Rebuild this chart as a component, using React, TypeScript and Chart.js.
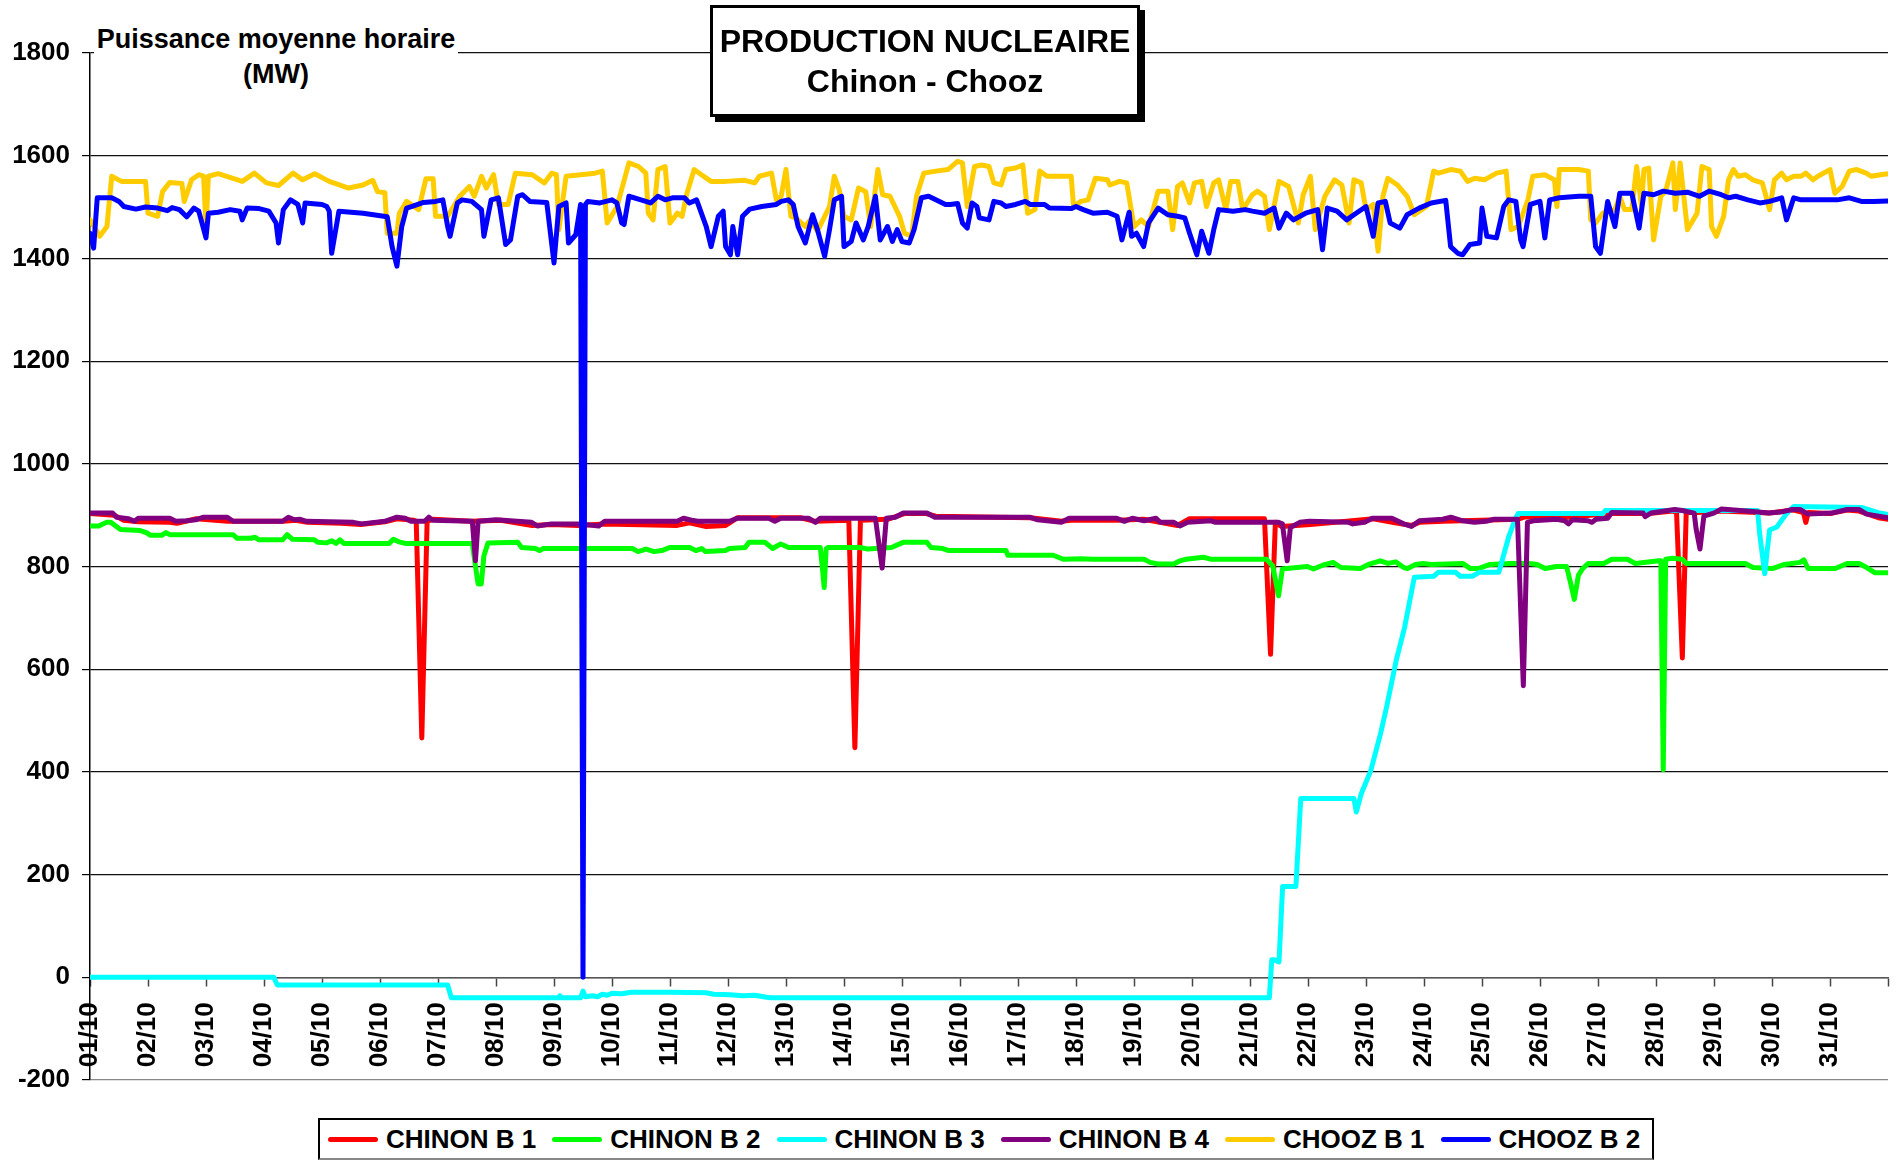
import React, { useEffect, useRef } from "react";
import { Chart, registerables } from "chart.js";

Chart.register(...registerables);

const FONT = '"Liberation Sans", Arial, Helvetica, sans-serif';

// Category labels (one per day, tick every 24 hours)
const dayLabels: string[] = [
  "01/10", "02/10", "03/10", "04/10", "05/10", "06/10", "07/10", "08/10", "09/10", "10/10",
  "11/10", "12/10", "13/10", "14/10", "15/10", "16/10", "17/10", "18/10", "19/10", "20/10",
  "21/10", "22/10", "23/10", "24/10", "25/10", "26/10", "27/10", "28/10", "29/10", "30/10", "31/10",
];
const hoursPerDay = 24;
const yMin = -200;
const yMax = 1800;
const yStep = 200;

const seriesNames: string[] = ["CHINON B 1", "CHINON B 2", "CHINON B 3", "CHINON B 4", "CHOOZ B 1", "CHOOZ B 2"];
const seriesColors: string[] = ["#FF0000", "#00FF00", "#00FFFF", "#800080", "#FFCC00", "#0000FF"];

// [hour since 01/10 00:00, MW]
const chinonB1: [number, number][] = [
  [0, 903], [10, 900], [14, 890], [20, 887], [33, 886], [36, 884], [44, 893], [57, 888], [80, 888], [85, 890],
  [90, 886], [104, 884], [112, 882], [122, 887], [127, 893], [134, 890], [135, 888], [137.3, 466], [139.5, 888],
  [142, 892], [158, 888], [170, 890], [183, 880], [191, 882], [202, 880], [213, 883], [243, 880], [248, 885],
  [255, 878], [263, 880], [268, 895], [294, 895], [300, 888], [314, 890], [316.5, 447], [318.8, 890], [330, 892],
  [337, 903], [346, 903], [350, 898], [389, 895], [402, 888], [406, 890], [425, 890], [436, 892], [450, 880],
  [455, 893], [486, 893], [488.5, 629], [490.5, 886], [493, 878], [505, 882], [520, 888], [531, 893], [540, 885],
  [547, 880], [550, 886], [560, 888], [591, 892], [594, 897], [607, 894], [629, 903], [645, 903], [655, 908],
  [656.5, 905], [658.9, 622], [660.5, 905], [665, 905], [675, 908], [695, 904], [705, 910], [709, 905], [710, 886],
  [711, 905], [720, 903], [727, 910], [732, 908], [740, 895], [744, 892],
];

const chinonB2: [number, number][] = [
  [0, 879], [3.6, 879], [6.9, 886], [8.6, 886], [12.6, 872], [20.8, 870], [23.3, 866], [24.9, 861], [29.8, 861],
  [31.4, 866], [33, 862], [59.2, 862], [60.9, 855], [66.6, 855], [68.2, 857], [69.9, 852], [79.7, 852], [81.6, 862],
  [83.8, 853], [92.8, 852], [94.4, 847], [97.7, 846], [100.1, 850], [101.8, 845], [103.4, 852], [105, 845],
  [123.8, 845], [125.5, 853], [127.9, 848], [130.4, 845], [158.2, 845], [159.5, 801], [160.6, 766], [161.9, 766],
  [163, 821], [164.7, 846], [177, 847], [178.6, 837], [184.3, 835], [186, 831], [187.6, 835], [224.4, 835],
  [226.8, 829], [230.1, 834], [233.4, 829], [236.6, 831], [239.9, 837], [248.1, 837], [250.7, 831], [253.1, 835],
  [254.7, 829], [262.9, 831], [264.6, 835], [271.1, 837], [272.7, 847], [279.3, 847], [282.5, 835], [285.8, 844],
  [289.1, 837], [302.2, 837], [303, 800], [303.8, 759], [304.6, 834], [305.4, 837], [318.5, 837], [321.8, 834],
  [325, 835], [331.6, 837], [336.5, 847], [346.3, 847], [348, 837], [352.9, 835], [355.3, 831], [379, 831],
  [379.8, 822], [398.6, 822], [402.7, 814], [410.1, 815], [415, 814], [436.2, 814], [438.7, 808], [442, 805],
  [448.5, 805], [451, 811], [453.4, 814], [460.8, 818], [464, 814], [486.9, 814], [489.4, 801], [491.8, 743],
  [493.4, 795], [495.1, 796], [503.8, 800], [506.3, 795], [510.3, 803], [514.4, 808], [517.6, 798], [525.7, 796],
  [529, 804], [533.9, 811], [537.1, 806], [540.3, 809], [543.6, 798], [545.2, 796], [548.5, 804], [551.7, 806],
  [555, 804], [568, 806], [571.2, 796], [574.5, 796], [579.3, 804], [587.4, 806], [595.6, 806], [598.8, 804],
  [602.1, 796], [606.9, 800], [611, 800], [612.6, 769], [614.2, 736], [615.9, 783], [617.5, 795], [619.9, 806],
  [626.4, 806], [629.7, 814], [636.2, 814], [639.4, 806], [649.2, 811], [650, 811], [651, 404], [652, 814],
  [654.8, 816], [658.9, 814], [660.5, 806], [684.9, 806], [688.1, 798], [696.2, 796], [701.1, 804], [707.6, 808],
  [709.2, 813], [710.9, 796], [722.2, 796], [727.1, 806], [732, 806], [735.2, 798], [738.5, 788], [744, 788],
];

const chinonB3: [number, number][] = [
  [0, 0], [76, 0], [77.5, -15], [148, -15], [149.5, -40], [194, -40], [194.5, -36], [195, -40], [203, -40],
  [204, -27], [205, -38], [208, -36], [210, -38], [212, -33], [214, -35], [216, -31], [220, -32], [224, -29],
  [240, -29], [255, -30], [258, -33], [265, -34], [270, -36], [275, -35], [280, -39], [282, -40], [488, -40],
  [489, 34], [490, 34], [492, 30], [493.5, 177], [499, 177], [501, 348], [523, 348], [524, 322], [526, 357],
  [530, 403], [534, 474], [536.5, 526], [540.5, 617], [544, 682], [548, 779], [556, 781], [558, 789], [565, 789],
  [567, 781], [572, 781], [575, 789], [583, 789], [587, 857], [590, 895], [591, 903], [626, 903], [627, 909],
  [665, 909], [690, 909], [691, 860], [693, 786], [694, 830], [695, 871], [698, 877], [702, 903], [705, 917],
  [733, 915], [740, 905], [744, 901],
];

const chinonB4: [number, number][] = [
  [0, 904], [9.4, 904], [11, 896], [16, 893], [18.4, 888], [20, 894], [33, 894], [35.5, 888], [40, 889],
  [43.7, 891], [47, 896], [56.8, 896], [59.2, 888], [79.7, 888], [82.1, 896], [84.6, 891], [87, 892], [89.5, 888],
  [109, 886], [112.4, 883], [122, 888], [127, 896], [130.4, 894], [132.8, 888], [138.5, 888], [140.2, 896],
  [141.8, 890], [158.2, 888], [159.5, 811], [160.6, 888], [168, 891], [182.7, 886], [185.1, 879], [190.9, 883],
  [202.3, 883], [210.5, 879], [213, 888], [243, 888], [245.6, 894], [248.9, 890], [251.5, 888], [264.6, 888],
  [267.8, 894], [280.9, 894], [283.4, 888], [285.8, 894], [297.3, 894], [300.2, 886], [302.2, 894], [325, 894],
  [327.8, 797], [329.5, 894], [333.2, 896], [336.5, 904], [346.3, 904], [349.6, 896], [388.8, 896], [392.1, 891],
  [401.9, 886], [405.2, 894], [424.8, 894], [428, 888], [431.3, 894], [436.2, 889], [441.1, 894], [442.8, 886],
  [448.5, 886], [451, 879], [454.2, 886], [464, 889], [465.7, 886], [491.8, 886], [493.4, 883], [495.4, 811],
  [496.7, 876], [500.6, 886], [504.6, 888], [520.9, 886], [522.5, 883], [527.4, 886], [530.6, 894], [538.7, 894],
  [543.6, 883], [546.8, 878], [550.1, 889], [559.8, 892], [563.1, 896], [568, 889], [572.8, 886], [577.7, 888],
  [581, 892], [590.7, 892], [593.1, 568], [594.8, 886], [597.2, 889], [606.9, 892], [610.2, 889], [611.8, 883],
  [613.4, 891], [619.9, 889], [621.5, 886], [623.2, 892], [628, 894], [629.7, 905], [642.7, 904], [643.5, 897],
  [645.9, 904], [655.7, 911], [658.9, 909], [663.8, 904], [664.6, 873], [666.2, 834], [667.8, 898], [671.9, 904],
  [675.1, 912], [688.1, 907], [694.6, 904], [699.5, 906], [704.4, 911], [707.6, 911], [710.9, 902], [720.6, 904],
  [727.1, 911], [732, 911], [735.2, 902], [744, 895],
];

const choozB1: [number, number][] = [
  [0, 1475], [4, 1443], [7, 1462], [9, 1560], [13, 1550], [23, 1550], [24, 1488], [28, 1482], [30, 1530],
  [33, 1548], [38, 1546], [39, 1511], [42, 1553], [45, 1563], [47, 1560], [48, 1462], [49, 1560], [53, 1565],
  [63, 1550], [68, 1566], [73, 1547], [78, 1542], [84, 1566], [88, 1553], [93, 1565], [99, 1550], [107, 1537],
  [113, 1543], [117, 1552], [119, 1530], [122, 1528], [123, 1449], [127, 1449], [128, 1488], [131, 1511],
  [136, 1495], [139, 1555], [142, 1555], [143, 1482], [148, 1482], [153, 1521], [157, 1540], [159, 1521],
  [162, 1560], [164, 1537], [167, 1563], [169, 1505], [173, 1505], [176, 1566], [183, 1563], [188, 1547],
  [191, 1566], [193, 1563], [194, 1456], [197, 1560], [203, 1563], [209, 1566], [212, 1570], [214, 1469],
  [218, 1500], [223, 1586], [227, 1579], [230, 1566], [231, 1488], [233, 1475], [235, 1573], [238, 1579],
  [240, 1469], [243, 1488], [245, 1482], [247, 1527], [250, 1573], [253, 1563], [257, 1550], [263, 1550],
  [271, 1552], [275, 1547], [277, 1560], [282, 1566], [284, 1514], [286, 1521], [288, 1573], [290, 1482],
  [292, 1479], [296, 1462], [298, 1475], [301, 1453], [306, 1501], [308, 1560], [310, 1534], [312, 1482],
  [315, 1475], [318, 1537], [321, 1530], [323, 1462], [326, 1573], [328, 1524], [331, 1521], [335, 1482],
  [337, 1449], [340, 1443], [342, 1521], [345, 1566], [350, 1570], [355, 1573], [359, 1589], [361, 1586],
  [363, 1501], [366, 1579], [369, 1582], [372, 1579], [374, 1547], [377, 1543], [379, 1573], [383, 1576],
  [386, 1582], [388, 1488], [391, 1495], [393, 1570], [396, 1560], [406, 1560], [407, 1501], [410, 1511],
  [413, 1514], [416, 1556], [421, 1553], [422, 1543], [426, 1550], [429, 1547], [432, 1462], [435, 1475],
  [438, 1462], [442, 1531], [446, 1531], [448, 1456], [450, 1540], [452, 1547], [455, 1508], [457, 1547],
  [460, 1550], [462, 1501], [465, 1547], [467, 1553], [470, 1495], [472, 1550], [475, 1550], [477, 1495],
  [481, 1524], [483, 1531], [486, 1521], [488, 1456], [492, 1550], [496, 1540], [500, 1469], [502, 1524],
  [505, 1560], [507, 1456], [511, 1521], [515, 1553], [518, 1543], [521, 1469], [523, 1553], [526, 1547],
  [528, 1495], [531, 1505], [533, 1414], [535, 1521], [537, 1556], [541, 1543], [545, 1521], [548, 1485],
  [553, 1501], [556, 1570], [558, 1566], [563, 1573], [567, 1570], [570, 1550], [573, 1556], [577, 1553],
  [582, 1566], [586, 1570], [588, 1456], [591, 1462], [595, 1514], [597, 1560], [602, 1563], [606, 1553],
  [607, 1501], [608, 1573], [616, 1573], [620, 1570], [621, 1475], [623, 1469], [626, 1488], [628, 1492],
  [631, 1495], [633, 1521], [635, 1495], [638, 1495], [640, 1579], [642, 1501], [643, 1573], [645, 1576],
  [647, 1436], [650, 1521], [652, 1531], [655, 1586], [656, 1495], [658, 1586], [661, 1456], [665, 1488],
  [667, 1579], [670, 1573], [671, 1462], [673, 1443], [676, 1482], [678, 1553], [680, 1573], [682, 1560],
  [685, 1563], [688, 1553], [692, 1547], [695, 1495], [697, 1553], [700, 1566], [702, 1553], [705, 1560],
  [708, 1560], [710, 1566], [713, 1553], [715, 1560], [720, 1573], [722, 1527], [725, 1540], [728, 1570],
  [731, 1573], [735, 1566], [737, 1560], [741, 1563], [744, 1565],
];

const choozB2: [number, number][] = [
  [0, 1449], [1.5, 1420], [3, 1518], [9, 1518], [12, 1511], [14, 1501], [19, 1496], [23, 1500], [28, 1498],
  [32, 1493], [34, 1499], [37, 1495], [40, 1481], [43, 1498], [45, 1492], [48, 1440], [49, 1488], [53, 1490],
  [58, 1495], [62, 1492], [63, 1475], [65, 1498], [70, 1497], [74, 1492], [77, 1469], [78, 1430], [80, 1495],
  [83, 1514], [86, 1505], [88, 1469], [89, 1508], [96, 1505], [98, 1501], [99, 1492], [100, 1410], [103, 1492],
  [113, 1488], [123, 1481], [125, 1423], [127, 1385], [129, 1462], [131, 1498], [133, 1501], [138, 1509],
  [143, 1511], [146, 1514], [148, 1462], [149, 1443], [152, 1508], [154, 1514], [158, 1511], [162, 1495],
  [163, 1443], [166, 1514], [169, 1518], [172, 1427], [174, 1436], [177, 1521], [179, 1524], [182, 1511],
  [189, 1509], [192, 1391], [194, 1501], [197, 1508], [198, 1430], [201, 1446], [203, 1505], [204, 0],
  [205, 1505], [206, 1511], [211, 1508], [216, 1514], [218, 1508], [220, 1469], [221, 1466], [223, 1521],
  [228, 1514], [232, 1508], [235, 1521], [238, 1514], [241, 1518], [246, 1518], [248, 1508], [251, 1514],
  [255, 1462], [257, 1423], [260, 1482], [262, 1492], [263, 1423], [265, 1407], [266, 1462], [268, 1407],
  [270, 1482], [273, 1496], [278, 1501], [284, 1505], [286, 1511], [289, 1514], [291, 1505], [293, 1462],
  [296, 1430], [299, 1485], [301, 1456], [304, 1404], [306, 1456], [308, 1514], [311, 1521], [312, 1423],
  [315, 1433], [317, 1469], [320, 1436], [322, 1462], [325, 1521], [327, 1436], [330, 1462], [332, 1433],
  [334, 1456], [336, 1433], [339, 1430], [341, 1456], [344, 1518], [347, 1521], [350, 1514], [354, 1505],
  [356, 1505], [359, 1507], [361, 1469], [363, 1459], [365, 1508], [367, 1501], [368, 1479], [372, 1475],
  [374, 1511], [377, 1508], [379, 1501], [383, 1505], [387, 1511], [389, 1505], [395, 1505], [397, 1498],
  [406, 1497], [408, 1501], [411, 1495], [415, 1488], [421, 1490], [425, 1482], [427, 1436], [430, 1490],
  [431, 1443], [433, 1449], [436, 1423], [438, 1469], [442, 1498], [446, 1485], [450, 1482], [453, 1479],
  [455, 1449], [458, 1407], [460, 1453], [463, 1410], [465, 1456], [467, 1495], [473, 1492], [478, 1495],
  [481, 1492], [486, 1488], [490, 1498], [492, 1459], [495, 1488], [498, 1475], [503, 1488], [508, 1495],
  [510, 1417], [512, 1498], [516, 1492], [520, 1475], [523, 1485], [528, 1501], [531, 1443], [533, 1508],
  [536, 1511], [538, 1469], [542, 1459], [545, 1485], [550, 1498], [555, 1508], [561, 1513], [563, 1423],
  [566, 1410], [568, 1407], [571, 1427], [575, 1430], [576, 1498], [578, 1443], [582, 1440], [585, 1501],
  [587, 1514], [590, 1511], [592, 1436], [593, 1423], [596, 1505], [600, 1511], [602, 1440], [604, 1514],
  [608, 1518], [616, 1521], [621, 1521], [623, 1423], [625, 1410], [628, 1511], [631, 1462], [633, 1527],
  [638, 1527], [641, 1459], [643, 1527], [647, 1524], [651, 1531], [656, 1527], [661, 1529], [666, 1521],
  [670, 1531], [675, 1524], [678, 1518], [681, 1521], [686, 1514], [691, 1508], [695, 1511], [700, 1518],
  [702, 1475], [705, 1518], [708, 1514], [716, 1514], [723, 1514], [728, 1518], [733, 1511], [738, 1511],
  [744, 1512],
];

const allSeries: [number, number][][] = [chinonB1, chinonB2, chinonB3, chinonB4, choozB1, choozB2];

export default function App() {
  const canvasRef = useRef<HTMLCanvasElement>(null);

  useEffect(() => {
    const canvas = canvasRef.current;
    if (!canvas) return;
    const tickFont = { family: FONT, size: 26, weight: "bold" as const };
    const chart = new Chart(canvas, {
      type: "line",
      data: {
        datasets: allSeries.map((s, i) => ({
          label: seriesNames[i],
          data: s.map(([x, y]) => ({ x, y })),
          borderColor: seriesColors[i],
          backgroundColor: seriesColors[i],
          borderWidth: 5,
          pointRadius: 0,
          pointHoverRadius: 0,
          tension: 0,
          fill: false,
          order: allSeries.length - 1 - i,
          borderJoinStyle: "round" as const,
          borderCapStyle: "round" as const,
        })),
      },
      options: {
        responsive: false,
        animation: false,
        devicePixelRatio: 1,
        events: [],
        layout: { padding: { left: 0, right: 10, top: 53, bottom: 80 } },
        plugins: {
          legend: { display: false },
          tooltip: { enabled: false },
          title: { display: false },
        },
        scales: {
          x: {
            type: "linear",
            position: { y: 0 } as any,
            min: 0,
            max: dayLabels.length * hoursPerDay,
            ticks: {
              stepSize: hoursPerDay,
              autoSkip: false,
              maxTicksLimit: 100,
              minRotation: 90,
              maxRotation: 90,
              padding: 17,
              color: "#000",
              font: tickFont,
              callback: (v: any) => {
                const idx = Math.round(Number(v) / hoursPerDay);
                return dayLabels[idx] ?? "";
              },
            },
            grid: {
              drawOnChartArea: false,
              drawTicks: true,
              tickLength: 8,
              tickColor: "#444",
              tickWidth: 1.5,
            },
            border: { display: true, color: "#555", width: 1.5 },
            afterFit: (s: any) => {
              s.paddingLeft = 0;
              s.paddingRight = 0;
            },
          },
          y: {
            type: "linear",
            min: yMin,
            max: yMax,
            ticks: {
              stepSize: yStep,
              padding: 12,
              color: "#000",
              font: tickFont,
              callback: (v: any) => String(v),
            },
            grid: {
              color: (ctx: any) => {
                const v = ctx.tick ? ctx.tick.value : null;
                if (v === yMin) return "#888";
                if (v === 0) return "#666";
                return "#111";
              },
              lineWidth: 1.2,
              tickLength: 8,
              tickColor: "#000",
            },
            border: { display: true, color: "#000", width: 1.5 },
            afterFit: (s: any) => {
              s.width = 90;
            },
          },
        },
      },
    });
    return () => chart.destroy();
  }, []);

  return (
    <div
      style={{
        position: "fixed",
        left: 0,
        top: 0,
        width: 1898,
        height: 1160,
        background: "#fff",
        fontFamily: FONT,
        color: "#000",
        overflow: "hidden",
      }}
    >
      <canvas
        ref={canvasRef}
        width={1898}
        height={1160}
        style={{ position: "absolute", left: 0, top: 0, width: 1898, height: 1160 }}
      />
      <div
        style={{
          position: "absolute",
          left: 94,
          top: 22,
          width: 364,
          background: "#fff",
          textAlign: "center",
          fontWeight: "bold",
          fontSize: 27,
          lineHeight: "35px",
        }}
      >
        Puissance moyenne horaire
        <br />
        (MW)
      </div>
      <div
        style={{
          position: "absolute",
          left: 710,
          top: 5,
          width: 430,
          height: 112,
          boxSizing: "border-box",
          border: "3px solid #000",
          background: "#fff",
          boxShadow: "5px 5px 0 #000",
          display: "flex",
          flexDirection: "column",
          justifyContent: "center",
          alignItems: "center",
          fontWeight: "bold",
          fontSize: 32,
          lineHeight: "40px",
        }}
      >
        <div>PRODUCTION NUCLEAIRE</div>
        <div>Chinon - Chooz</div>
      </div>
      <div
        style={{
          position: "absolute",
          left: 318,
          top: 1118,
          height: 42,
          boxSizing: "border-box",
          border: "2px solid #000",
          borderBottomColor: "#888",
          background: "#fff",
          display: "flex",
          alignItems: "center",
          padding: "0 12px 0 8px",
          fontWeight: "bold",
          fontSize: 26,
          whiteSpace: "nowrap",
        }}
      >
        {seriesNames.map((n, i) => (
          <div
            key={n}
            style={{ display: "flex", alignItems: "center", marginRight: i < seriesNames.length - 1 ? 16 : 0 }}
          >
            <span
              style={{
                display: "inline-block",
                width: 50,
                height: 5,
                borderRadius: 3,
                background: seriesColors[i],
                marginRight: 8,
              }}
            />
            {n}
          </div>
        ))}
      </div>
    </div>
  );
}
